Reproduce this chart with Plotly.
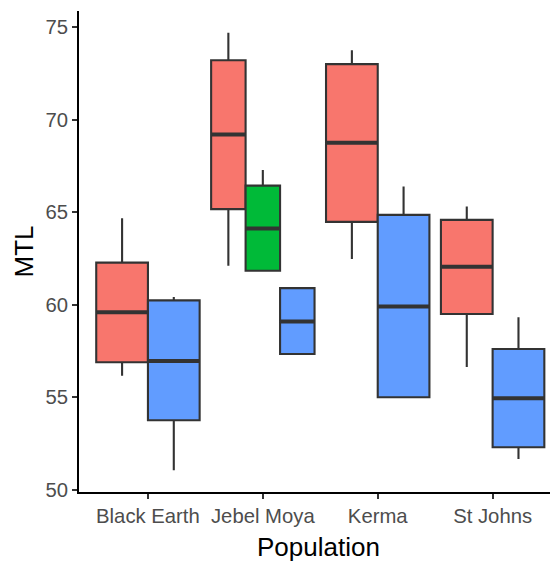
import plotly.graph_objects as go

populations = ["Black Earth", "Jebel Moya", "Kerma", "St Johns"]
series = ["F", "I", "M"]
colors = {"F": "#F8766D", "I": "#00BA38", "M": "#619CFF"}

upper = {
    "F": [64.67, 74.69, 73.75, 65.30],
    "I": [None, 67.28, None, None],
    "M": [60.41, 60.89, 66.38, 59.31],
}
q3 = {
    "F": [62.27, 73.21, 73.00, 64.58],
    "I": [None, 66.43, None, None],
    "M": [60.23, 60.89, 64.85, 57.60],
}
median = {
    "F": [59.58, 69.20, 68.75, 62.04],
    "I": [None, 64.11, None, None],
    "M": [56.95, 59.09, 59.90, 54.94],
}
q1 = {
    "F": [56.88, 65.16, 64.47, 59.49],
    "I": [None, 61.83, None, None],
    "M": [53.75, 57.33, 54.99, 52.29],
}
lower = {
    "F": [56.16, 62.10, 62.46, 56.63],
    "I": [None, 61.83, None, None],
    "M": [51.05, 57.33, 54.99, 51.66],
}

DODGE = 0.9
fig = go.Figure()
for ci, pop in enumerate(populations):
    present = [s for s in series if median[s][ci] is not None]
    n = len(present)
    w = DODGE / n
    for i, s in enumerate(present):
        xc = (ci + 1) - DODGE / 2 + w * (i + 0.5)
        fig.add_trace(go.Box(
            x=[xc], q1=[q1[s][ci]], median=[median[s][ci]], q3=[q3[s][ci]],
            lowerfence=[lower[s][ci]], upperfence=[upper[s][ci]],
            width=w, whiskerwidth=0, boxpoints=False,
            fillcolor=colors[s], line=dict(color="#333333", width=2.1),
            name=s, showlegend=False,
        ))
        # thicker median line (ggplot fatten)
        fig.add_trace(go.Scatter(
            x=[xc - w / 2, xc + w / 2], y=[median[s][ci]] * 2,
            mode="lines", line=dict(color="#333333", width=4),
            showlegend=False, hoverinfo="skip",
        ))

fig.update_layout(
    width=550, height=555,
    margin=dict(l=71, r=0, t=3, b=71),
    plot_bgcolor="white", paper_bgcolor="white",
    font=dict(family="Liberation Sans, Arial, sans-serif"),
    showlegend=False,
    annotations=[
        dict(text="MTL", xref="paper", yref="paper", x=0, y=0.5, xanchor="center",
             yanchor="middle", xshift=-56, textangle=-90, showarrow=False,
             font=dict(size=26, color="black")),
        dict(text="Population", xref="paper", yref="paper", x=0.5, y=0, xanchor="center",
             yanchor="middle", yshift=-55, showarrow=False,
             font=dict(size=26, color="black")),
    ],
)
fig.update_xaxes(
    range=[0.4, 4.569], tickmode="array", tickvals=[1, 2, 3, 4], ticktext=populations,
    showgrid=False, zeroline=False, showline=True, linecolor="black", linewidth=2,
    ticks="outside", ticklen=5, tickwidth=1.8, tickcolor="#333333",
    tickfont=dict(size=20.3, color="#4D4D4D"), automargin=False,
)
fig.update_yaxes(
    range=[49.87, 75.87], tickvals=[50, 55, 60, 65, 70, 75],
    showgrid=False, zeroline=False, showline=True, linecolor="black", linewidth=2,
    ticks="outside", ticklen=5, tickwidth=1.8, tickcolor="#333333",
    tickfont=dict(size=20.3, color="#4D4D4D"), automargin=False,
)

fig.write_html("out.html")
